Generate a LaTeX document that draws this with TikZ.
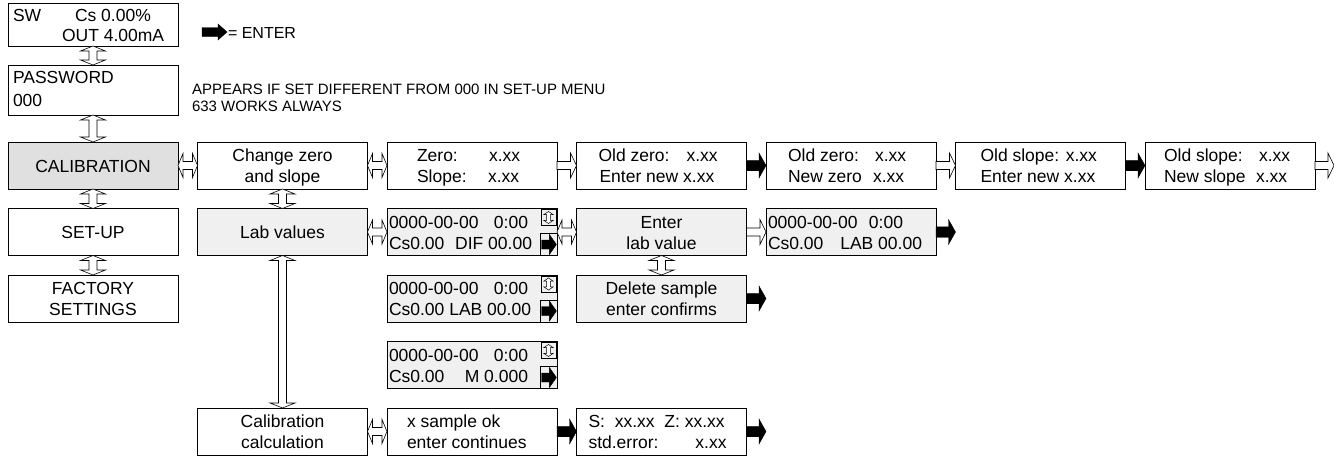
\documentclass[tikz,border=0pt]{standalone}
\usepackage{fontspec}
\setmainfont{Liberation Sans}
\usetikzlibrary{calc}
\definecolor{calgray}{RGB}{224,224,224}
\definecolor{lightg}{RGB}{240,240,240}
\newcounter{tn}
\newcommand{\TL}[4]{\stepcounter{tn}\node[txt,anchor=base west] (t\arabic{tn}) at ($(#1.north west)+(#2,#3)$) {#4};}
\newcommand{\TR}[4]{\stepcounter{tn}\node[txt,anchor=base east] (t\arabic{tn}) at ($(#1.north west)+(#2,#3)$) {#4};}
\newcommand{\TC}[3]{\stepcounter{tn}\node[txt,anchor=base] (t\arabic{tn}) at ($(#1.north)+(0,#2)$) {#3};}
% horizontal double arrow: #2 left end, #3 right end, #4 shaft half, #5 head half, #6 head length
\newcommand{\hdbl}[6][hol]{\draw[#1] let \p1=#2, \p2=#3 in
  (\x1,\y1) -- ({\x1+#6},{\y1+#5}) -- ({\x1+#6},{\y1+#4}) -- ({\x2-#6},{\y1+#4}) -- ({\x2-#6},{\y1+#5}) -- (\x2,\y1)
  -- ({\x2-#6},{\y1-#5}) -- ({\x2-#6},{\y1-#4}) -- ({\x1+#6},{\y1-#4}) -- ({\x1+#6},{\y1-#5}) -- cycle;}
% vertical double arrow: #2 top end, #3 bottom end
\newcommand{\vdbl}[6][hol]{\draw[#1] let \p1=#2, \p2=#3 in
  (\x1,\y1) -- ({\x1+#5},{\y1-#6}) -- ({\x1+#4},{\y1-#6}) -- ({\x1+#4},{\y2+#6}) -- ({\x1+#5},{\y2+#6}) -- (\x1,\y2)
  -- ({\x1-#5},{\y2+#6}) -- ({\x1-#4},{\y2+#6}) -- ({\x1-#4},{\y1-#6}) -- ({\x1-#5},{\y1-#6}) -- cycle;}
% single right arrow: #2 tail, #3 tip
\newcommand{\rarr}[6][hol]{\draw[#1] let \p1=#2, \p2=#3 in
  (\x1,{\y1+#4}) -- ({\x2-#6},{\y1+#4}) -- ({\x2-#6},{\y1+#5}) -- (\x2,\y1) -- ({\x2-#6},{\y1-#5}) -- ({\x2-#6},{\y1-#4}) -- (\x1,{\y1-#4}) -- cycle;}
\newcommand{\dateicons}[1]{%
  \node[draw=black, line width=0.6pt, minimum width=17pt, minimum height=22pt, anchor=south east, inner sep=0pt, outer sep=0pt, fill=lightg] (#1-ent) at (#1.south east) {};
  \rarr[blk]{($(#1-ent.west)+(1.5,0)$)}{($(#1-ent.east)+(-0.6,0)$)}{4.5pt}{10pt}{7pt}
  \node[draw=black, line width=0.6pt, minimum width=15pt, minimum height=16pt, anchor=north east, inner sep=0pt, outer sep=0pt] (#1-ud) at ($(#1.north east)+(-1,1)$) {};
  \vdbl[hols]{($(#1-ud.north)+(0,2)$)}{($(#1-ud.south)+(0,-2)$)}{1.8pt}{4.8pt}{3.2pt}
}
\tikzset{
  box/.style={draw=black, line width=0.8pt, minimum width=170pt, minimum height=47pt, anchor=north west, inner sep=0pt, outer sep=0pt},
  txt/.style={inner sep=0pt, outer sep=0pt, font=\fontsize{17.5}{21}\selectfont},
  note/.style={inner sep=0pt, outer sep=0pt, font=\fontsize{15}{18}\selectfont},
  hol/.style={draw=black, fill=white, line width=0.6pt, line join=miter},
  hols/.style={draw=black, fill=white, line width=0.45pt, line join=miter},
  blk/.style={draw=black, fill=black, line width=0.4pt, line join=miter},
}
\begin{document}
\begin{tikzpicture}[x=1pt,y=-1pt]
\useasboundingbox (0,0) rectangle (1334,456);
% column 0
\node[box, minimum height=43pt] (sw) at (8,3) {};
\node[box, minimum height=50pt] (pw) at (8,65) {};
\node[box, fill=calgray] (cal) at (8,142) {};
\node[box] (setup) at (8,208.5) {};
\node[box] (fact) at (8,275) {};
% column 1
\node[box] (chg) at (197.5,142) {};
\node[box, fill=lightg] (lab) at (197.5,208.5) {};
\node[box] (calc) at (197.5,408) {};
% column 2
\node[box] (zero) at (387,142) {};
\node[box, fill=lightg] (d1) at (387,208.5) {};
\node[box, fill=lightg] (d2) at (387,275) {};
\node[box, fill=lightg] (d3) at (387,341.5) {};
\node[box] (xs) at (387,408) {};
% column 3
\node[box] (oz1) at (576.5,142) {};
\node[box, fill=lightg] (elv) at (576.5,208.5) {};
\node[box, fill=lightg] (del) at (576.5,275) {};
\node[box] (sz) at (576.5,408) {};
% column 4
\node[box] (oz2) at (766,142) {};
\node[box, fill=lightg] (d4) at (766,208.5) {};
% column 5, 6
\node[box] (os1) at (955.5,142) {};
\node[box] (os2) at (1145,142) {};
% texts
\TL{sw}{5}{18.5}{SW}
\TL{sw}{67}{18.5}{Cs 0.00\%}
\TL{sw}{54}{38.5}{OUT 4.00mA}
\TL{pw}{5}{18.5}{PASSWORD}
\TL{pw}{5}{41}{000}
\TC{cal}{30}{CALIBRATION}
\TC{setup}{30}{SET-UP}
\TC{fact}{19.5}{FACTORY}
\TC{fact}{40.5}{SETTINGS}
\TC{chg}{19.5}{Change zero}
\TC{chg}{40.5}{and slope}
\TC{lab}{30}{Lab values}
\TC{calc}{19.5}{Calibration}
\TC{calc}{40.5}{calculation}
\TL{zero}{30}{19.5}{Zero:}
\TL{zero}{102}{19.5}{x.xx}
\TL{zero}{30}{40.5}{Slope:}
\TL{zero}{101}{40.5}{x.xx}
\TL{oz1}{22}{19.5}{Old zero:}
\TL{oz1}{110}{19.5}{x.xx}
\TL{oz1}{23}{40.5}{Enter new x.xx}
\TL{oz2}{22}{19.5}{Old zero:}
\TL{oz2}{109}{19.5}{x.xx}
\TL{oz2}{22}{40.5}{New zero}
\TL{oz2}{107}{40.5}{x.xx}
\TL{os1}{25}{19.5}{Old slope: x.xx}
\TL{os1}{25}{40.5}{Enter new x.xx}
\TL{os2}{19}{19.5}{Old slope:}
\TL{os2}{114}{19.5}{x.xx}
\TL{os2}{19}{40.5}{New slope}
\TL{os2}{111}{40.5}{x.xx}
\TL{d1}{2}{19.5}{0000-00-00}
\TR{d1}{141}{19.5}{0:00}
\TL{d1}{2}{40.5}{Cs0.00}
\TR{d1}{145}{40.5}{DIF 00.00}
\TL{d2}{2}{19.5}{0000-00-00}
\TR{d2}{141}{19.5}{0:00}
\TL{d2}{2}{40.5}{Cs0.00 LAB 00.00}
\TL{d3}{2}{19.5}{0000-00-00}
\TR{d3}{141}{19.5}{0:00}
\TL{d3}{2}{40.5}{Cs0.00}
\TR{d3}{141}{40.5}{M 0.000}
\TC{elv}{19.5}{Enter}
\TC{elv}{40.5}{lab value}
\TL{d4}{2}{19.5}{0000-00-00}
\TR{d4}{137}{19.5}{0:00}
\TL{d4}{2}{40.5}{Cs0.00}
\TR{d4}{156}{40.5}{LAB 00.00}
\TC{del}{19.5}{Delete sample}
\TC{del}{40.5}{enter confirms}
\TL{xs}{20}{19.5}{x sample ok}
\TL{xs}{20}{40.5}{enter continues}
\TL{sz}{12}{19.5}{S:\ \ xx.xx\ \ Z: xx.xx}
\TL{sz}{12}{40.5}{std.error:}
\TR{sz}{150}{40.5}{x.xx}
% icons in date boxes
\dateicons{d1}
\dateicons{d2}
\dateicons{d3}
% legend and notes
\coordinate (legA) at (202,32);
\coordinate (legB) at (227,32);
\rarr[blk]{(legA)}{(legB)}{4.5pt}{8pt}{9pt}
\node[txt, anchor=base west, font=\fontsize{16}{19}\selectfont] (legt) at (228,38.5) {= ENTER};
\node[note, anchor=base west] (n1) at (192,94) {APPEARS IF SET DIFFERENT FROM 000 IN SET-UP MENU};
\node[note, anchor=base west] (n2) at (192,111) {633 WORKS ALWAYS};
% vertical double arrows
\vdbl{(sw.south)}{(pw.north)}{4pt}{12.5pt}{5pt}
\vdbl{(pw.south)}{(cal.north)}{4pt}{12.5pt}{5pt}
\vdbl{(cal.south)}{(setup.north)}{4pt}{12.5pt}{5pt}
\vdbl{(setup.south)}{(fact.north)}{4pt}{12.5pt}{5pt}
\vdbl{(chg.south)}{(lab.north)}{4pt}{12.5pt}{5pt}
\vdbl{(lab.south)}{(calc.north)}{4pt}{12.5pt}{5pt}
\vdbl{(elv.south)}{(del.north)}{4pt}{12.5pt}{5pt}
% horizontal double arrows
\hdbl{(cal.east)}{(chg.west)}{4pt}{12pt}{5pt}
\hdbl{(chg.east)}{(zero.west)}{4pt}{12pt}{5pt}
\hdbl{(lab.east)}{(d1.west)}{4pt}{12pt}{5pt}
\hdbl{(d1.east)}{(elv.west)}{4pt}{12pt}{5pt}
\hdbl{(calc.east)}{(xs.west)}{4pt}{12pt}{5pt}
% hollow single arrows
\coordinate (edge) at (1334,165.5);
\rarr{(zero.east)}{(oz1.west)}{4pt}{12.5pt}{6pt}
\rarr{(oz2.east)}{(os1.west)}{4pt}{12.5pt}{6pt}
\rarr{(os2.east)}{(edge)}{4pt}{12.5pt}{6pt}
\rarr{(elv.east)}{(d4.west)}{4pt}{12.5pt}{6pt}
% black arrows
\coordinate (d4out) at ($(d4.east)+(19.5,0)$);
\coordinate (delout) at ($(del.east)+(19.5,0)$);
\coordinate (szout) at ($(sz.east)+(19.5,0)$);
\rarr[blk]{(oz1.east)}{(oz2.west)}{5.25pt}{12.5pt}{7pt}
\rarr[blk]{(os1.east)}{(os2.west)}{5.25pt}{12.5pt}{7pt}
\rarr[blk]{(d4.east)}{(d4out)}{5.25pt}{12.5pt}{7pt}
\rarr[blk]{(del.east)}{(delout)}{5.25pt}{12.5pt}{7pt}
\rarr[blk]{(xs.east)}{(sz.west)}{5.25pt}{12.5pt}{7pt}
\rarr[blk]{(sz.east)}{(szout)}{5.25pt}{12.5pt}{7pt}
\end{tikzpicture}
\end{document}
